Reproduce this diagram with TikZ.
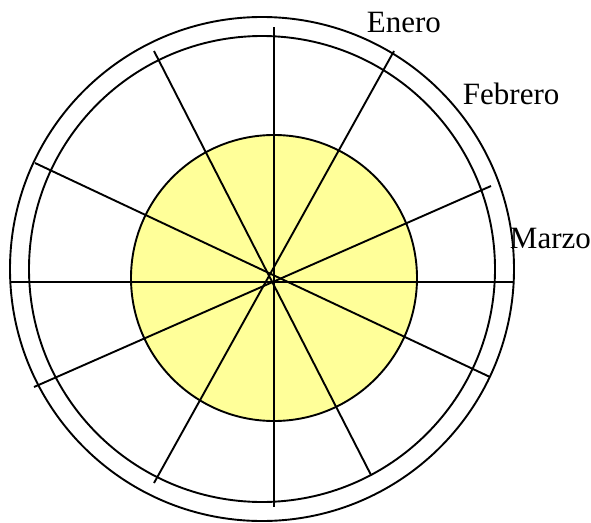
\documentclass[tikz,border=0pt]{standalone}
\usepackage{fontspec}
\setmainfont{Liberation Serif}
\begin{document}
\begin{tikzpicture}[x=1pt,y=-1pt,line width=1.9pt]
  \useasboundingbox (0,0) rectangle (591,522);
  % yellow disc in the middle
  \draw[fill={rgb,255:red,255;green,255;blue,153}] (274,278) circle (143);
  % two outer rings
  \draw (262,269) circle (252);
  \draw (262,269) circle (233);
  % spokes
  \draw (274,27) -- (274,507);
  \draw (10,282) -- (514,282);
  \draw (154,51) -- (371,475);
  \draw (394,51) -- (154,483);
  \draw (35,163) -- (490,377);
  \draw (491,186) -- (34,387);
  % month labels
  \node[anchor=base west,inner sep=0pt,font=\fontsize{31}{36}\selectfont] (enero) at (366,32) {Enero};
  \node[anchor=base west,inner sep=0pt,font=\fontsize{31}{36}\selectfont] (febrero) at (462,104) {Febrero};
  \node[anchor=base west,inner sep=0pt,font=\fontsize{31}{36}\selectfont] (marzo) at (509,248) {Marzo};
\end{tikzpicture}
\end{document}
